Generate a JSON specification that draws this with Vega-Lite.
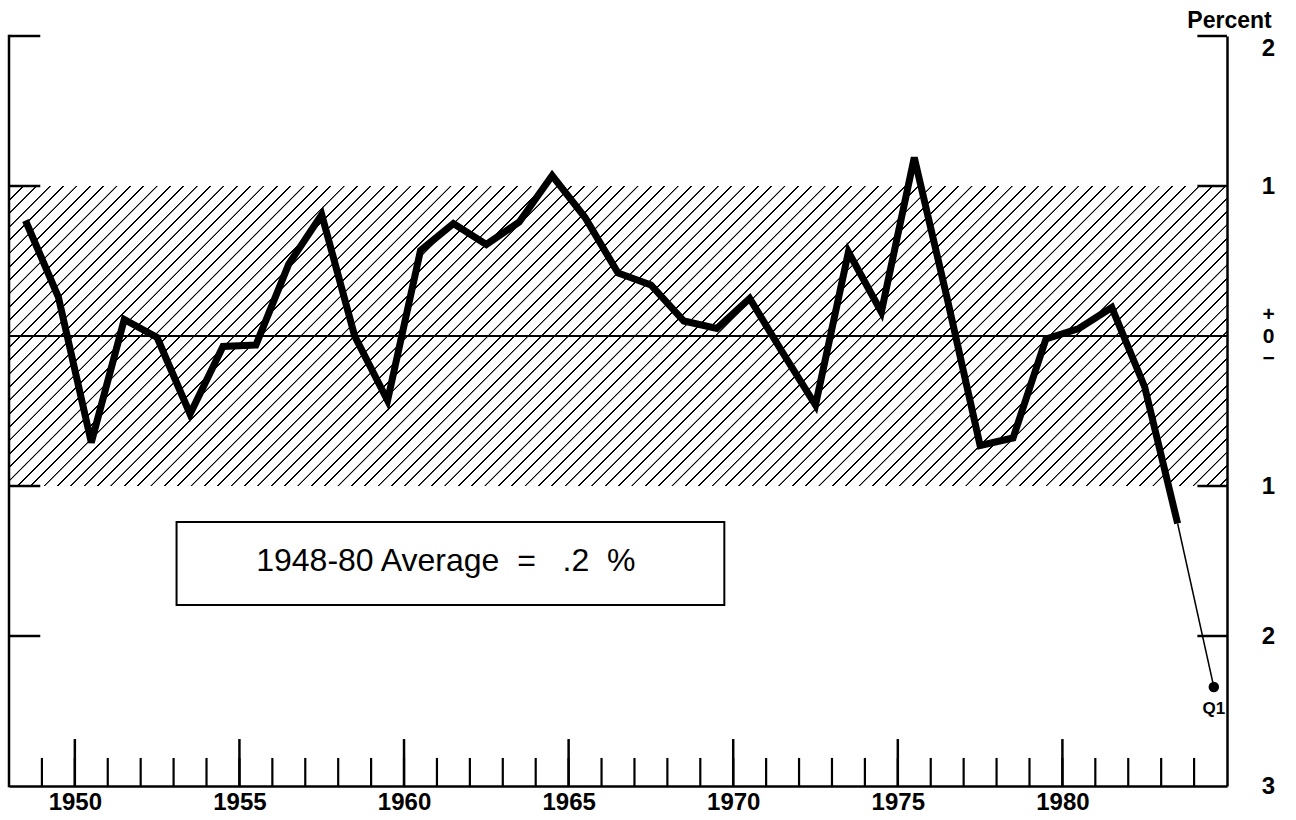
{
  "$schema": "https://vega.github.io/schema/vega-lite/v6.json",
  "width": 1218,
  "height": 750,
  "autosize": {"type": "none"},
  "padding": {"left": 9, "top": 36, "right": 69, "bottom": 34},
  "background": "white",
  "config": {"view": {"stroke": null}, "font": "Liberation Sans"},
  "datasets": {
    "annual": [
      {"year": 1948.5, "value": 0.77}, {"year": 1949.5, "value": 0.26}, {"year": 1950.5, "value": -0.71},
      {"year": 1951.5, "value": 0.11}, {"year": 1952.5, "value": -0.01}, {"year": 1953.5, "value": -0.52},
      {"year": 1954.5, "value": -0.07}, {"year": 1955.5, "value": -0.06}, {"year": 1956.5, "value": 0.48},
      {"year": 1957.5, "value": 0.81}, {"year": 1958.5, "value": 0.0}, {"year": 1959.5, "value": -0.43},
      {"year": 1960.5, "value": 0.57}, {"year": 1961.5, "value": 0.75}, {"year": 1962.5, "value": 0.61},
      {"year": 1963.5, "value": 0.76}, {"year": 1964.5, "value": 1.07}, {"year": 1965.5, "value": 0.79},
      {"year": 1966.5, "value": 0.42}, {"year": 1967.5, "value": 0.34}, {"year": 1968.5, "value": 0.1},
      {"year": 1969.5, "value": 0.05}, {"year": 1970.5, "value": 0.25}, {"year": 1971.5, "value": -0.11},
      {"year": 1972.5, "value": -0.46}, {"year": 1973.5, "value": 0.56}, {"year": 1974.5, "value": 0.16},
      {"year": 1975.5, "value": 1.19}, {"year": 1976.5, "value": 0.25}, {"year": 1977.5, "value": -0.73},
      {"year": 1978.5, "value": -0.68}, {"year": 1979.5, "value": -0.02}, {"year": 1980.5, "value": 0.05},
      {"year": 1981.5, "value": 0.19}, {"year": 1982.5, "value": -0.34}, {"year": 1983.5, "value": -1.25}
    ],
    "recent": [
      {"year": 1983.5, "value": -1.25, "period": "1983"},
      {"year": 1984.6, "value": -2.34, "period": "Q1"}
    ],
    "levels": [{"v": 2}, {"v": 1}, {"v": -1}, {"v": -2}],
    "years": [
      {"year": 1949}, {"year": 1950}, {"year": 1951}, {"year": 1952}, {"year": 1953}, {"year": 1954},
      {"year": 1955}, {"year": 1956}, {"year": 1957}, {"year": 1958}, {"year": 1959}, {"year": 1960},
      {"year": 1961}, {"year": 1962}, {"year": 1963}, {"year": 1964}, {"year": 1965}, {"year": 1966},
      {"year": 1967}, {"year": 1968}, {"year": 1969}, {"year": 1970}, {"year": 1971}, {"year": 1972},
      {"year": 1973}, {"year": 1974}, {"year": 1975}, {"year": 1976}, {"year": 1977}, {"year": 1978},
      {"year": 1979}, {"year": 1980}, {"year": 1981}, {"year": 1982}, {"year": 1983}, {"year": 1984}
    ]
  },
  "layer": [
    {
      "data": {"values": [{"low": -1, "high": 1}]},
      "mark": {"type": "rect", "fill": {"gradient": "linear", "x1": 0, "y1": 0, "x2": 1.29268, "y2": 0.31839, "stops": [
{"offset":0,"color":"#fff"},{"offset":0.0002,"color":"#000"},{"offset":0.0011,"color":"#000"},{"offset":0.0013,"color":"#fff"},
{"offset":0.008,"color":"#fff"},{"offset":0.0082,"color":"#000"},{"offset":0.0091,"color":"#000"},{"offset":0.0093,"color":"#fff"},
{"offset":0.016,"color":"#fff"},{"offset":0.0162,"color":"#000"},{"offset":0.0171,"color":"#000"},{"offset":0.0173,"color":"#fff"},
{"offset":0.024,"color":"#fff"},{"offset":0.0242,"color":"#000"},{"offset":0.0251,"color":"#000"},{"offset":0.0253,"color":"#fff"},
{"offset":0.032,"color":"#fff"},{"offset":0.0322,"color":"#000"},{"offset":0.0331,"color":"#000"},{"offset":0.0333,"color":"#fff"},
{"offset":0.04,"color":"#fff"},{"offset":0.0402,"color":"#000"},{"offset":0.0411,"color":"#000"},{"offset":0.0413,"color":"#fff"},
{"offset":0.048,"color":"#fff"},{"offset":0.0482,"color":"#000"},{"offset":0.0491,"color":"#000"},{"offset":0.0493,"color":"#fff"},
{"offset":0.056,"color":"#fff"},{"offset":0.0562,"color":"#000"},{"offset":0.0571,"color":"#000"},{"offset":0.0573,"color":"#fff"},
{"offset":0.064,"color":"#fff"},{"offset":0.0642,"color":"#000"},{"offset":0.0651,"color":"#000"},{"offset":0.0653,"color":"#fff"},
{"offset":0.072,"color":"#fff"},{"offset":0.0722,"color":"#000"},{"offset":0.0731,"color":"#000"},{"offset":0.0733,"color":"#fff"},
{"offset":0.08,"color":"#fff"},{"offset":0.0802,"color":"#000"},{"offset":0.0811,"color":"#000"},{"offset":0.0813,"color":"#fff"},
{"offset":0.088,"color":"#fff"},{"offset":0.0882,"color":"#000"},{"offset":0.0891,"color":"#000"},{"offset":0.0893,"color":"#fff"},
{"offset":0.096,"color":"#fff"},{"offset":0.0962,"color":"#000"},{"offset":0.0971,"color":"#000"},{"offset":0.0973,"color":"#fff"},
{"offset":0.104,"color":"#fff"},{"offset":0.1042,"color":"#000"},{"offset":0.1051,"color":"#000"},{"offset":0.1053,"color":"#fff"},
{"offset":0.112,"color":"#fff"},{"offset":0.1122,"color":"#000"},{"offset":0.1131,"color":"#000"},{"offset":0.1133,"color":"#fff"},
{"offset":0.12,"color":"#fff"},{"offset":0.1202,"color":"#000"},{"offset":0.1211,"color":"#000"},{"offset":0.1213,"color":"#fff"},
{"offset":0.128,"color":"#fff"},{"offset":0.1282,"color":"#000"},{"offset":0.1291,"color":"#000"},{"offset":0.1293,"color":"#fff"},
{"offset":0.136,"color":"#fff"},{"offset":0.1362,"color":"#000"},{"offset":0.1371,"color":"#000"},{"offset":0.1373,"color":"#fff"},
{"offset":0.144,"color":"#fff"},{"offset":0.1442,"color":"#000"},{"offset":0.1451,"color":"#000"},{"offset":0.1453,"color":"#fff"},
{"offset":0.152,"color":"#fff"},{"offset":0.1522,"color":"#000"},{"offset":0.1531,"color":"#000"},{"offset":0.1533,"color":"#fff"},
{"offset":0.16,"color":"#fff"},{"offset":0.1602,"color":"#000"},{"offset":0.1611,"color":"#000"},{"offset":0.1613,"color":"#fff"},
{"offset":0.168,"color":"#fff"},{"offset":0.1682,"color":"#000"},{"offset":0.1691,"color":"#000"},{"offset":0.1693,"color":"#fff"},
{"offset":0.176,"color":"#fff"},{"offset":0.1762,"color":"#000"},{"offset":0.1771,"color":"#000"},{"offset":0.1773,"color":"#fff"},
{"offset":0.184,"color":"#fff"},{"offset":0.1842,"color":"#000"},{"offset":0.1851,"color":"#000"},{"offset":0.1853,"color":"#fff"},
{"offset":0.192,"color":"#fff"},{"offset":0.1922,"color":"#000"},{"offset":0.1931,"color":"#000"},{"offset":0.1933,"color":"#fff"},
{"offset":0.2,"color":"#fff"},{"offset":0.2002,"color":"#000"},{"offset":0.2011,"color":"#000"},{"offset":0.2013,"color":"#fff"},
{"offset":0.208,"color":"#fff"},{"offset":0.2082,"color":"#000"},{"offset":0.2091,"color":"#000"},{"offset":0.2093,"color":"#fff"},
{"offset":0.216,"color":"#fff"},{"offset":0.2162,"color":"#000"},{"offset":0.2171,"color":"#000"},{"offset":0.2173,"color":"#fff"},
{"offset":0.224,"color":"#fff"},{"offset":0.2242,"color":"#000"},{"offset":0.2251,"color":"#000"},{"offset":0.2253,"color":"#fff"},
{"offset":0.232,"color":"#fff"},{"offset":0.2322,"color":"#000"},{"offset":0.2331,"color":"#000"},{"offset":0.2333,"color":"#fff"},
{"offset":0.24,"color":"#fff"},{"offset":0.2402,"color":"#000"},{"offset":0.2411,"color":"#000"},{"offset":0.2413,"color":"#fff"},
{"offset":0.248,"color":"#fff"},{"offset":0.2482,"color":"#000"},{"offset":0.2491,"color":"#000"},{"offset":0.2493,"color":"#fff"},
{"offset":0.256,"color":"#fff"},{"offset":0.2562,"color":"#000"},{"offset":0.2571,"color":"#000"},{"offset":0.2573,"color":"#fff"},
{"offset":0.264,"color":"#fff"},{"offset":0.2642,"color":"#000"},{"offset":0.2651,"color":"#000"},{"offset":0.2653,"color":"#fff"},
{"offset":0.272,"color":"#fff"},{"offset":0.2722,"color":"#000"},{"offset":0.2731,"color":"#000"},{"offset":0.2733,"color":"#fff"},
{"offset":0.28,"color":"#fff"},{"offset":0.2802,"color":"#000"},{"offset":0.2811,"color":"#000"},{"offset":0.2813,"color":"#fff"},
{"offset":0.288,"color":"#fff"},{"offset":0.2882,"color":"#000"},{"offset":0.2891,"color":"#000"},{"offset":0.2893,"color":"#fff"},
{"offset":0.296,"color":"#fff"},{"offset":0.2962,"color":"#000"},{"offset":0.2971,"color":"#000"},{"offset":0.2973,"color":"#fff"},
{"offset":0.304,"color":"#fff"},{"offset":0.3042,"color":"#000"},{"offset":0.3051,"color":"#000"},{"offset":0.3053,"color":"#fff"},
{"offset":0.312,"color":"#fff"},{"offset":0.3122,"color":"#000"},{"offset":0.3131,"color":"#000"},{"offset":0.3133,"color":"#fff"},
{"offset":0.32,"color":"#fff"},{"offset":0.3202,"color":"#000"},{"offset":0.3211,"color":"#000"},{"offset":0.3213,"color":"#fff"},
{"offset":0.328,"color":"#fff"},{"offset":0.3282,"color":"#000"},{"offset":0.3291,"color":"#000"},{"offset":0.3293,"color":"#fff"},
{"offset":0.336,"color":"#fff"},{"offset":0.3362,"color":"#000"},{"offset":0.3371,"color":"#000"},{"offset":0.3373,"color":"#fff"},
{"offset":0.344,"color":"#fff"},{"offset":0.3442,"color":"#000"},{"offset":0.3451,"color":"#000"},{"offset":0.3453,"color":"#fff"},
{"offset":0.352,"color":"#fff"},{"offset":0.3522,"color":"#000"},{"offset":0.3531,"color":"#000"},{"offset":0.3533,"color":"#fff"},
{"offset":0.36,"color":"#fff"},{"offset":0.3602,"color":"#000"},{"offset":0.3611,"color":"#000"},{"offset":0.3613,"color":"#fff"},
{"offset":0.368,"color":"#fff"},{"offset":0.3682,"color":"#000"},{"offset":0.3691,"color":"#000"},{"offset":0.3693,"color":"#fff"},
{"offset":0.376,"color":"#fff"},{"offset":0.3762,"color":"#000"},{"offset":0.3771,"color":"#000"},{"offset":0.3773,"color":"#fff"},
{"offset":0.384,"color":"#fff"},{"offset":0.3842,"color":"#000"},{"offset":0.3851,"color":"#000"},{"offset":0.3853,"color":"#fff"},
{"offset":0.392,"color":"#fff"},{"offset":0.3922,"color":"#000"},{"offset":0.3931,"color":"#000"},{"offset":0.3933,"color":"#fff"},
{"offset":0.4,"color":"#fff"},{"offset":0.4002,"color":"#000"},{"offset":0.4011,"color":"#000"},{"offset":0.4013,"color":"#fff"},
{"offset":0.408,"color":"#fff"},{"offset":0.4082,"color":"#000"},{"offset":0.4091,"color":"#000"},{"offset":0.4093,"color":"#fff"},
{"offset":0.416,"color":"#fff"},{"offset":0.4162,"color":"#000"},{"offset":0.4171,"color":"#000"},{"offset":0.4173,"color":"#fff"},
{"offset":0.424,"color":"#fff"},{"offset":0.4242,"color":"#000"},{"offset":0.4251,"color":"#000"},{"offset":0.4253,"color":"#fff"},
{"offset":0.432,"color":"#fff"},{"offset":0.4322,"color":"#000"},{"offset":0.4331,"color":"#000"},{"offset":0.4333,"color":"#fff"},
{"offset":0.44,"color":"#fff"},{"offset":0.4402,"color":"#000"},{"offset":0.4411,"color":"#000"},{"offset":0.4413,"color":"#fff"},
{"offset":0.448,"color":"#fff"},{"offset":0.4482,"color":"#000"},{"offset":0.4491,"color":"#000"},{"offset":0.4493,"color":"#fff"},
{"offset":0.456,"color":"#fff"},{"offset":0.4562,"color":"#000"},{"offset":0.4571,"color":"#000"},{"offset":0.4573,"color":"#fff"},
{"offset":0.464,"color":"#fff"},{"offset":0.4642,"color":"#000"},{"offset":0.4651,"color":"#000"},{"offset":0.4653,"color":"#fff"},
{"offset":0.472,"color":"#fff"},{"offset":0.4722,"color":"#000"},{"offset":0.4731,"color":"#000"},{"offset":0.4733,"color":"#fff"},
{"offset":0.48,"color":"#fff"},{"offset":0.4802,"color":"#000"},{"offset":0.4811,"color":"#000"},{"offset":0.4813,"color":"#fff"},
{"offset":0.488,"color":"#fff"},{"offset":0.4882,"color":"#000"},{"offset":0.4891,"color":"#000"},{"offset":0.4893,"color":"#fff"},
{"offset":0.496,"color":"#fff"},{"offset":0.4962,"color":"#000"},{"offset":0.4971,"color":"#000"},{"offset":0.4973,"color":"#fff"},
{"offset":0.504,"color":"#fff"},{"offset":0.5042,"color":"#000"},{"offset":0.5051,"color":"#000"},{"offset":0.5053,"color":"#fff"},
{"offset":0.512,"color":"#fff"},{"offset":0.5122,"color":"#000"},{"offset":0.5131,"color":"#000"},{"offset":0.5133,"color":"#fff"},
{"offset":0.52,"color":"#fff"},{"offset":0.5202,"color":"#000"},{"offset":0.5211,"color":"#000"},{"offset":0.5213,"color":"#fff"},
{"offset":0.528,"color":"#fff"},{"offset":0.5282,"color":"#000"},{"offset":0.5291,"color":"#000"},{"offset":0.5293,"color":"#fff"},
{"offset":0.536,"color":"#fff"},{"offset":0.5362,"color":"#000"},{"offset":0.5371,"color":"#000"},{"offset":0.5373,"color":"#fff"},
{"offset":0.544,"color":"#fff"},{"offset":0.5442,"color":"#000"},{"offset":0.5451,"color":"#000"},{"offset":0.5453,"color":"#fff"},
{"offset":0.552,"color":"#fff"},{"offset":0.5522,"color":"#000"},{"offset":0.5531,"color":"#000"},{"offset":0.5533,"color":"#fff"},
{"offset":0.56,"color":"#fff"},{"offset":0.5602,"color":"#000"},{"offset":0.5611,"color":"#000"},{"offset":0.5613,"color":"#fff"},
{"offset":0.568,"color":"#fff"},{"offset":0.5682,"color":"#000"},{"offset":0.5691,"color":"#000"},{"offset":0.5693,"color":"#fff"},
{"offset":0.576,"color":"#fff"},{"offset":0.5762,"color":"#000"},{"offset":0.5771,"color":"#000"},{"offset":0.5773,"color":"#fff"},
{"offset":0.584,"color":"#fff"},{"offset":0.5842,"color":"#000"},{"offset":0.5851,"color":"#000"},{"offset":0.5853,"color":"#fff"},
{"offset":0.592,"color":"#fff"},{"offset":0.5922,"color":"#000"},{"offset":0.5931,"color":"#000"},{"offset":0.5933,"color":"#fff"},
{"offset":0.6,"color":"#fff"},{"offset":0.6002,"color":"#000"},{"offset":0.6011,"color":"#000"},{"offset":0.6013,"color":"#fff"},
{"offset":0.608,"color":"#fff"},{"offset":0.6082,"color":"#000"},{"offset":0.6091,"color":"#000"},{"offset":0.6093,"color":"#fff"},
{"offset":0.616,"color":"#fff"},{"offset":0.6162,"color":"#000"},{"offset":0.6171,"color":"#000"},{"offset":0.6173,"color":"#fff"},
{"offset":0.624,"color":"#fff"},{"offset":0.6242,"color":"#000"},{"offset":0.6251,"color":"#000"},{"offset":0.6253,"color":"#fff"},
{"offset":0.632,"color":"#fff"},{"offset":0.6322,"color":"#000"},{"offset":0.6331,"color":"#000"},{"offset":0.6333,"color":"#fff"},
{"offset":0.64,"color":"#fff"},{"offset":0.6402,"color":"#000"},{"offset":0.6411,"color":"#000"},{"offset":0.6413,"color":"#fff"},
{"offset":0.648,"color":"#fff"},{"offset":0.6482,"color":"#000"},{"offset":0.6491,"color":"#000"},{"offset":0.6493,"color":"#fff"},
{"offset":0.656,"color":"#fff"},{"offset":0.6562,"color":"#000"},{"offset":0.6571,"color":"#000"},{"offset":0.6573,"color":"#fff"},
{"offset":0.664,"color":"#fff"},{"offset":0.6642,"color":"#000"},{"offset":0.6651,"color":"#000"},{"offset":0.6653,"color":"#fff"},
{"offset":0.672,"color":"#fff"},{"offset":0.6722,"color":"#000"},{"offset":0.6731,"color":"#000"},{"offset":0.6733,"color":"#fff"},
{"offset":0.68,"color":"#fff"},{"offset":0.6802,"color":"#000"},{"offset":0.6811,"color":"#000"},{"offset":0.6813,"color":"#fff"},
{"offset":0.688,"color":"#fff"},{"offset":0.6882,"color":"#000"},{"offset":0.6891,"color":"#000"},{"offset":0.6893,"color":"#fff"},
{"offset":0.696,"color":"#fff"},{"offset":0.6962,"color":"#000"},{"offset":0.6971,"color":"#000"},{"offset":0.6973,"color":"#fff"},
{"offset":0.704,"color":"#fff"},{"offset":0.7042,"color":"#000"},{"offset":0.7051,"color":"#000"},{"offset":0.7053,"color":"#fff"},
{"offset":0.712,"color":"#fff"},{"offset":0.7122,"color":"#000"},{"offset":0.7131,"color":"#000"},{"offset":0.7133,"color":"#fff"},
{"offset":0.72,"color":"#fff"},{"offset":0.7202,"color":"#000"},{"offset":0.7211,"color":"#000"},{"offset":0.7213,"color":"#fff"},
{"offset":0.728,"color":"#fff"},{"offset":0.7282,"color":"#000"},{"offset":0.7291,"color":"#000"},{"offset":0.7293,"color":"#fff"},
{"offset":0.736,"color":"#fff"},{"offset":0.7362,"color":"#000"},{"offset":0.7371,"color":"#000"},{"offset":0.7373,"color":"#fff"},
{"offset":0.744,"color":"#fff"},{"offset":0.7442,"color":"#000"},{"offset":0.7451,"color":"#000"},{"offset":0.7453,"color":"#fff"},
{"offset":0.752,"color":"#fff"},{"offset":0.7522,"color":"#000"},{"offset":0.7531,"color":"#000"},{"offset":0.7533,"color":"#fff"},
{"offset":0.76,"color":"#fff"},{"offset":0.7602,"color":"#000"},{"offset":0.7611,"color":"#000"},{"offset":0.7613,"color":"#fff"},
{"offset":0.768,"color":"#fff"},{"offset":0.7682,"color":"#000"},{"offset":0.7691,"color":"#000"},{"offset":0.7693,"color":"#fff"},
{"offset":0.776,"color":"#fff"},{"offset":0.7762,"color":"#000"},{"offset":0.7771,"color":"#000"},{"offset":0.7773,"color":"#fff"},
{"offset":0.784,"color":"#fff"},{"offset":0.7842,"color":"#000"},{"offset":0.7851,"color":"#000"},{"offset":0.7853,"color":"#fff"},
{"offset":0.792,"color":"#fff"},{"offset":0.7922,"color":"#000"},{"offset":0.7931,"color":"#000"},{"offset":0.7933,"color":"#fff"},
{"offset":0.8,"color":"#fff"},{"offset":0.8002,"color":"#000"},{"offset":0.8011,"color":"#000"},{"offset":0.8013,"color":"#fff"},
{"offset":0.808,"color":"#fff"},{"offset":0.8082,"color":"#000"},{"offset":0.8091,"color":"#000"},{"offset":0.8093,"color":"#fff"},
{"offset":0.816,"color":"#fff"},{"offset":0.8162,"color":"#000"},{"offset":0.8171,"color":"#000"},{"offset":0.8173,"color":"#fff"},
{"offset":0.824,"color":"#fff"},{"offset":0.8242,"color":"#000"},{"offset":0.8251,"color":"#000"},{"offset":0.8253,"color":"#fff"},
{"offset":0.832,"color":"#fff"},{"offset":0.8322,"color":"#000"},{"offset":0.8331,"color":"#000"},{"offset":0.8333,"color":"#fff"},
{"offset":0.84,"color":"#fff"},{"offset":0.8402,"color":"#000"},{"offset":0.8411,"color":"#000"},{"offset":0.8413,"color":"#fff"},
{"offset":0.848,"color":"#fff"},{"offset":0.8482,"color":"#000"},{"offset":0.8491,"color":"#000"},{"offset":0.8493,"color":"#fff"},
{"offset":0.856,"color":"#fff"},{"offset":0.8562,"color":"#000"},{"offset":0.8571,"color":"#000"},{"offset":0.8573,"color":"#fff"},
{"offset":0.864,"color":"#fff"},{"offset":0.8642,"color":"#000"},{"offset":0.8651,"color":"#000"},{"offset":0.8653,"color":"#fff"},
{"offset":0.872,"color":"#fff"},{"offset":0.8722,"color":"#000"},{"offset":0.8731,"color":"#000"},{"offset":0.8733,"color":"#fff"},
{"offset":0.88,"color":"#fff"},{"offset":0.8802,"color":"#000"},{"offset":0.8811,"color":"#000"},{"offset":0.8813,"color":"#fff"},
{"offset":0.888,"color":"#fff"},{"offset":0.8882,"color":"#000"},{"offset":0.8891,"color":"#000"},{"offset":0.8893,"color":"#fff"},
{"offset":0.896,"color":"#fff"},{"offset":0.8962,"color":"#000"},{"offset":0.8971,"color":"#000"},{"offset":0.8973,"color":"#fff"},
{"offset":0.904,"color":"#fff"},{"offset":0.9042,"color":"#000"},{"offset":0.9051,"color":"#000"},{"offset":0.9053,"color":"#fff"}
      ]}},
      "encoding": {
        "x": {"datum": 1948, "type": "quantitative"},
        "x2": {"datum": 1985},
        "y": {"field": "low", "type": "quantitative"},
        "y2": {"field": "high"}
      }
    },
    {
      "data": {"values": [{}]},
      "mark": {"type": "rule", "color": "black", "strokeWidth": 2},
      "encoding": {"y": {"datum": 0, "type": "quantitative"}}
    },
    {
      "data": {"values": [{}]},
      "mark": {"type": "rule", "color": "black", "strokeWidth": 2.5, "strokeCap": "square"},
      "encoding": {
        "x": {"datum": 1948, "type": "quantitative"},
        "y": {"datum": 2, "type": "quantitative"},
        "y2": {"datum": -3}
      }
    },
    {
      "data": {"name": "levels"},
      "mark": {"type": "rule", "color": "black", "strokeWidth": 2.5},
      "encoding": {
        "x": {"datum": 1948, "type": "quantitative"},
        "x2": {"datum": 1948.95},
        "y": {"field": "v", "type": "quantitative"}
      }
    },
    {
      "data": {"name": "levels"},
      "mark": {"type": "rule", "color": "black", "strokeWidth": 2.5},
      "encoding": {
        "x": {"datum": 1984.1, "type": "quantitative"},
        "x2": {"datum": 1985},
        "y": {"field": "v", "type": "quantitative"}
      }
    },
    {
      "data": {"name": "years"},
      "mark": {"type": "rule", "color": "black", "strokeWidth": 2.2},
      "encoding": {
        "x": {"field": "year", "type": "quantitative"},
        "y": {"datum": -3, "type": "quantitative"},
        "y2": {"datum": -2.813}
      }
    },
    {
      "data": {"name": "years"},
      "transform": [{"filter": "datum.year % 5 == 0"}],
      "mark": {"type": "rule", "color": "black", "strokeWidth": 2.5},
      "encoding": {
        "x": {"field": "year", "type": "quantitative"},
        "y": {"datum": -3, "type": "quantitative"},
        "y2": {"datum": -2.687}
      }
    },
    {
      "data": {"values": [{}]},
      "mark": {"type": "rect", "fill": "white", "stroke": "black", "strokeWidth": 2},
      "encoding": {
        "x": {"datum": 1953.09, "type": "quantitative"},
        "x2": {"datum": 1969.73},
        "y": {"datum": -1.24, "type": "quantitative"},
        "y2": {"datum": -1.793}
      }
    },
    {
      "data": {"values": [{"note": "1948-80 Average\u00a0 =\u00a0\u00a0 .2\u00a0 %"}]},
      "mark": {"type": "text", "fontSize": 32, "font": "Liberation Sans", "color": "black", "align": "center", "baseline": "middle"},
      "encoding": {
        "x": {"datum": 1961.27, "type": "quantitative"},
        "y": {"datum": -1.5, "type": "quantitative"},
        "text": {"field": "note"}
      }
    },
    {
      "data": {"name": "annual"},
      "mark": {"type": "line", "color": "black", "strokeWidth": 7},
      "encoding": {
        "x": {
          "field": "year", "type": "quantitative",
          "scale": {"domain": [1948, 1985], "nice": false, "zero": false},
          "axis": {
            "orient": "bottom", "title": null, "values": [1950, 1955, 1960, 1965, 1970, 1975, 1980], "format": "d",
            "ticks": false, "tickSize": 0, "grid": false, "domain": true, "domainColor": "black", "domainWidth": 2.5,
            "labelFont": "Liberation Sans", "labelFontSize": 24, "labelFontWeight": "bold", "labelColor": "black",
            "labelBaseline": "middle", "labelPadding": 16, "labelFlush": false, "labelOverlap": false, "zindex": 1
          }
        },
        "y": {
          "field": "value", "type": "quantitative",
          "scale": {"domain": [-3, 2], "nice": false, "zero": false},
          "axis": {
            "orient": "right", "values": [2, 1, 0, -1, -2, -3],
            "labelExpr": "datum.value == 0 ? ['+', '0', '\u2212'] : abs(datum.value)",
            "ticks": false, "tickSize": 0, "grid": false, "domain": true, "domainColor": "black", "domainWidth": 2.5,
            "labelFont": "Liberation Sans", "labelFontWeight": "bold", "labelColor": "black",
            "labelFontSize": {"condition": {"test": "datum.value == 0", "value": 21}, "value": 24},
            "labelAlign": "center", "labelBaseline": "middle", "labelPadding": 41, "labelLineHeight": 22,
            "labelOffset": {"condition": [{"test": "datum.value == 2", "value": 12}, {"test": "datum.value == 0", "value": -22}], "value": 0},
            "labelFlush": false, "labelOverlap": false, "zindex": 1,
            "title": "Percent", "titleAngle": 0, "titleX": 2, "titleY": -9, "titleAlign": "center", "titleBaseline": "alphabetic",
            "titleFont": "Liberation Sans", "titleFontSize": 23, "titleFontWeight": "bold", "titleColor": "black"
          }
        }
      }
    },
    {
      "data": {"name": "recent"},
      "mark": {"type": "line", "color": "black", "strokeWidth": 1.5},
      "encoding": {
        "x": {"field": "year", "type": "quantitative"},
        "y": {"field": "value", "type": "quantitative"}
      }
    },
    {
      "data": {"name": "recent"},
      "transform": [{"filter": "datum.period == 'Q1'"}],
      "mark": {"type": "point", "filled": true, "color": "black", "size": 110, "opacity": 1},
      "encoding": {
        "x": {"field": "year", "type": "quantitative"},
        "y": {"field": "value", "type": "quantitative"}
      }
    },
    {
      "data": {"name": "recent"},
      "transform": [{"filter": "datum.period == 'Q1'"}],
      "mark": {"type": "text", "fontSize": 17, "fontWeight": "bold", "font": "Liberation Sans", "color": "black", "align": "center", "baseline": "middle", "dy": 22},
      "encoding": {
        "x": {"field": "year", "type": "quantitative"},
        "y": {"field": "value", "type": "quantitative"},
        "text": {"field": "period"}
      }
    }
  ]
}
